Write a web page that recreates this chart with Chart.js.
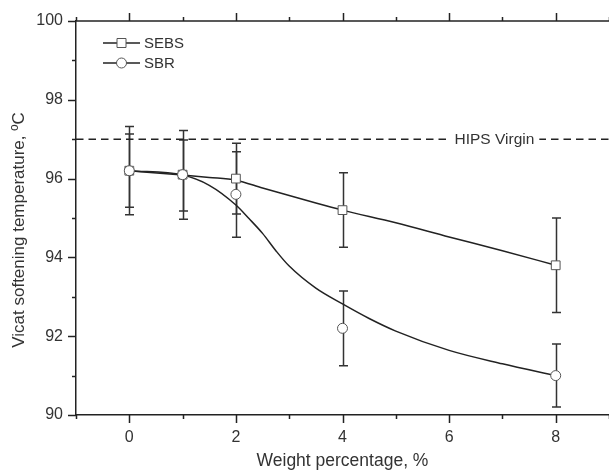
<!DOCTYPE html>
<html>
<head>
<meta charset="utf-8">
<script src="https://cdn.jsdelivr.net/npm/chart.js@4/dist/chart.umd.min.js"></script>
<style>
  html, body { margin: 0; padding: 0; background: #fff; }
  #c { display: block; }
</style>
</head>
<body>
<canvas id="c" width="609" height="472"></canvas>
<script>
// ---- data ----
const weights = [0, 1, 2, 4, 8];
const sebsValues = [96.2, 96.1, 96.0, 95.2, 93.8];
const sebsUpper  = [97.32, 97.22, 96.9, 96.15, 95.0];
const sebsLower  = [95.08, 94.97, 95.1, 94.26, 92.6];
const sbrValues  = [96.2, 96.1, 95.6, 92.2, 91.0];
const sbrUpper   = [97.13, 96.98, 96.68, 93.15, 91.8];
const sbrLower   = [95.27, 95.18, 94.51, 91.25, 90.2];
// smooth trend lines as drawn in the figure
const sebsFitX = [0, 1, 1.5, 2, 2.5, 3, 3.5, 4, 5, 6, 7, 8];
const sebsFit  = [96.2, 96.09, 96.03, 95.96, 95.76, 95.57, 95.38, 95.2, 94.88, 94.52, 94.17, 93.8];
const sbrFitX  = [0, 1, 1.5, 2, 2.25, 2.5, 2.75, 3, 3.5, 4, 4.5, 5, 6, 7, 8];
const sbrFit   = [96.2, 96.09, 95.83, 95.33, 94.98, 94.61, 94.17, 93.78, 93.22, 92.82, 92.45, 92.13, 91.64, 91.3, 91.0];
// reference line
const hipsX = [-1, 9];
const hipsY = [97, 97];
const hipsLabel = 'HIPS Virgin';
const seriesNames = ['SEBS', 'SBR'];
const xTitle = 'Weight percentage, %';
const yTitle = 'Vicat softening temperature, ºC';

const INK = '#222';
const TXT = '#333';
const FONT = "'Liberation Sans', Arial, sans-serif";
Chart.defaults.font.family = FONT;

const pts = (xs, ys) => xs.map((x, i) => ({x, y: ys[i]}));

const errorBarsPlugin = {
  id: 'errorBars',
  beforeDatasetsDraw(chart) {
    const {ctx, scales: {x, y}} = chart;
    const cap = 4.5;
    ctx.save();
    ctx.strokeStyle = '#333';
    ctx.lineWidth = 1.5;
    [[sebsUpper, sebsLower], [sbrUpper, sbrLower]].forEach(([up, lo]) => {
      weights.forEach((w, i) => {
        const px = Math.round(x.getPixelForValue(w)) + 0.5;
        const pu = y.getPixelForValue(up[i]);
        const pl = y.getPixelForValue(lo[i]);
        ctx.beginPath();
        ctx.moveTo(px, pu); ctx.lineTo(px, pl);
        ctx.moveTo(px - cap, pu); ctx.lineTo(px + cap, pu);
        ctx.moveTo(px - cap, pl); ctx.lineTo(px + cap, pl);
        ctx.stroke();
      });
    });
    ctx.restore();
  }
};

const framePlugin = {
  id: 'frame',
  afterDraw(chart) {
    const {ctx, chartArea: a, scales: {x, y}} = chart;
    ctx.save();
    ctx.strokeStyle = INK;
    ctx.lineWidth = 1.5;
    // top axis line
    ctx.beginPath();
    ctx.moveTo(a.left, a.top); ctx.lineTo(a.right + 2, a.top);
    ctx.stroke();
    // x ticks (bottom and top, outward)
    x.ticks.forEach(t => {
      const px = Math.round(x.getPixelForValue(t.value)) + 0.5;
      const len = (t.value % 2 === 0) ? 8 : 4;
      ctx.beginPath();
      ctx.moveTo(px, a.bottom); ctx.lineTo(px, a.bottom + len);
      ctx.moveTo(px, a.top); ctx.lineTo(px, a.top - len);
      ctx.stroke();
    });
    // y ticks (left, outward)
    y.ticks.forEach(t => {
      const py = Math.round(y.getPixelForValue(t.value)) + 0.5;
      const len = (t.value % 2 === 0) ? 8 : 4;
      ctx.beginPath();
      ctx.moveTo(a.left, py); ctx.lineTo(a.left - len, py);
      ctx.stroke();
    });

    // y axis title
    ctx.save();
    ctx.translate(19, (a.top + a.bottom) / 2 + 12);
    ctx.rotate(-Math.PI / 2);
    ctx.font = '17px ' + FONT;
    ctx.fillStyle = TXT;
    ctx.textAlign = 'center';
    ctx.textBaseline = 'middle';
    ctx.fillText(yTitle, 0, 0);
    ctx.restore();

    // HIPS label with white gap
    ctx.font = '15.5px ' + FONT;
    ctx.textBaseline = 'middle';
    ctx.textAlign = 'center';
    const lx = a.left + (a.right - a.left) * 0.785;
    const ly = y.getPixelForValue(hipsY[0]);
    const tw = ctx.measureText(hipsLabel).width;
    ctx.fillStyle = '#fff';
    ctx.fillRect(lx - tw / 2 - 5, ly - 9, tw + 10, 18);
    ctx.fillStyle = TXT;
    ctx.fillText(hipsLabel, lx, ly + 1);

    // legend
    const items = [
      {name: seriesNames[0], style: 'rect'},
      {name: seriesNames[1], style: 'circle'}
    ];
    items.forEach((it, i) => {
      const yy = a.top + 22 + i * 20;
      const x0 = a.left + 27, x1 = a.left + 64, xm = (x0 + x1) / 2;
      ctx.strokeStyle = INK;
      ctx.lineWidth = 1.5;
      ctx.beginPath(); ctx.moveTo(x0, yy); ctx.lineTo(x1, yy); ctx.stroke();
      ctx.fillStyle = '#fff';
      ctx.strokeStyle = '#555';
      ctx.lineWidth = 1;
      ctx.beginPath();
      if (it.style === 'rect') ctx.rect(xm - 4.5, yy - 4.5, 9, 9);
      else ctx.arc(xm, yy, 5, 0, Math.PI * 2);
      ctx.fill(); ctx.stroke();
      ctx.fillStyle = TXT;
      ctx.textAlign = 'left';
      ctx.font = '15px ' + FONT;
      ctx.fillText(it.name, x1 + 4, yy + 1);
    });
    ctx.restore();
  }
};

new Chart(document.getElementById('c'), {
  type: 'scatter',
  data: {
    datasets: [
      { label: 'HIPS', data: pts(hipsX, hipsY), showLine: true, borderColor: INK, borderWidth: 1.5,
        borderDash: [7.5, 5], pointRadius: 0, order: 5 },
      { label: seriesNames[0] + ' fit', data: pts(sebsFitX, sebsFit), showLine: true, borderColor: INK,
        borderWidth: 1.5, pointRadius: 0, cubicInterpolationMode: 'monotone', order: 4 },
      { label: seriesNames[1] + ' fit', data: pts(sbrFitX, sbrFit), showLine: true, borderColor: INK,
        borderWidth: 1.5, pointRadius: 0, cubicInterpolationMode: 'monotone', order: 3 },
      { label: seriesNames[0], data: pts(weights, sebsValues), showLine: false, pointStyle: 'rect',
        pointRadius: 6.2, pointBackgroundColor: '#fff', pointBorderColor: '#555', pointBorderWidth: 1, order: 2 },
      { label: seriesNames[1], data: pts(weights, sbrValues), showLine: false, pointStyle: 'circle',
        pointRadius: 5, pointBackgroundColor: '#fff', pointBorderColor: '#555', pointBorderWidth: 1, order: 1 }
    ]
  },
  options: {
    responsive: false,
    animation: false,
    devicePixelRatio: 1,
    layout: { autoPadding: false, padding: { top: 21, right: -1, left: 0, bottom: 0 } },
    plugins: { legend: { display: false }, tooltip: { enabled: false } },
    scales: {
      x: {
        type: 'linear', min: -1, max: 9,
        grid: { display: false, drawTicks: false },
        border: { display: true, color: INK, width: 1.5 },
        ticks: { stepSize: 1, padding: 13, color: TXT, font: { size: 16 },
                 callback: v => (v % 2 === 0 ? String(v) : ''), maxRotation: 0, autoSkip: false },
        title: { display: true, text: xTitle, color: TXT, font: { size: 17.5 }, padding: { top: 0, bottom: 0 } },
        afterFit: s => { s.height = 57; s.paddingLeft = 0; s.paddingRight = 0; }
      },
      y: {
        type: 'linear', min: 90, max: 100,
        grid: { display: false, drawTicks: false },
        border: { display: true, color: INK, width: 1.5 },
        ticks: { stepSize: 1, padding: 13, color: TXT, font: { size: 16 },
                 callback: v => (v % 2 === 0 ? String(v) : ''), autoSkip: false },
        title: { display: false },
        afterFit: s => { s.width = 76; s.paddingTop = 0; s.paddingBottom = 0; }
      }
    }
  },
  plugins: [errorBarsPlugin, framePlugin]
});
</script>
</body>
</html>
